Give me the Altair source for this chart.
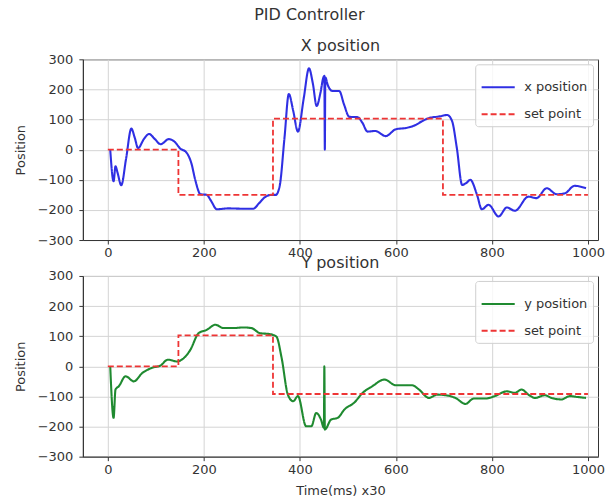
import altair as alt
import pandas as pd

FONT = "DejaVu Sans"

# ---- data ----
x_time = [5, 12, 16, 20, 28, 38, 49, 56, 63, 75, 86, 98, 110, 127, 140, 150, 164, 174, 182, 193,
          206, 215, 227, 250, 280, 303, 315, 327, 340, 350, 358, 368, 377, 386, 396, 408, 419, 427,
          435, 443, 449, 451, 452, 453, 458, 468, 482, 492, 503, 520, 530, 541, 557, 579, 600, 621,
          641, 655, 669, 689, 707, 717, 727, 738, 747, 755, 769, 779, 793, 814, 831, 848, 876, 893,
          914, 935, 952, 972, 996]
x_pos = [0, -105, -55, -75, -118, -30, 70, 40, 5, 35, 52, 35, 18, 35, 25, 5, -10, -45, -100, -148,
         -150, -170, -198, -195, -196, -196, -178, -158, -150, -150, -120, 40, 185, 130, 60, 170, 270, 220,
         145, 190, 240, 245, 0, 240, 215, 195, 195, 150, 109, 108, 90, 60, 62, 45, 68, 72,
         82, 95, 105, 110, 115, 95, 5, -117, -110, -100, -150, -198, -183, -222, -192, -203, -156, -161,
         -128, -148, -145, -120, -128]

y_time = [5, 12, 16, 23, 37, 54, 72, 92, 110, 125, 144, 158, 172, 189, 206, 224, 241, 262, 282, 299,
          317, 337, 351, 362, 375, 386, 396, 413, 424, 434, 444, 450, 451, 452, 465, 479, 493, 513,
          531, 551, 576, 600, 634, 648, 669, 686, 707, 724, 745, 762, 786, 806, 831, 848, 862, 876,
          890, 910, 924, 945, 962, 979, 996]
y_pos = [0, -171, -77, -66, -33, -50, -22, -5, 3, 22, 16, 27, 55, 110, 121, 138, 127, 127, 129, 127,
         110, 107, 99, 28, -94, -116, -99, -199, -199, -155, -177, -204, 0, -210, -177, -171, -143, -121,
         -88, -66, -44, -63, -63, -77, -105, -94, -97, -105, -125, -107, -107, -99, -83, -88, -77, -94,
         -105, -96, -105, -110, -99, -102, -105]

spx_time = [0, 147, 147, 344, 344, 698, 698, 1000]
spx_val = [0, 0, -150, -150, 103, 103, -150, -150]
spy_time = [0, 147, 147, 344, 344, 1000]
spy_val = [0, 0, 103, 103, -92, -92]

x_ticks = [0, 200, 400, 600, 800, 1000]
y_ticks = [-300, -200, -100, 0, 100, 200, 300]

RED = "#ee3535"


def frame(times, vals, name):
    return pd.DataFrame({"t": times, "v": vals, "series": name, "i": list(range(len(times)))})


def panel(title, pos_name, pos_color, times, vals, sp_t, sp_v, xtitle):
    df_pos = frame(times, vals, pos_name)
    df_sp = frame(sp_t, sp_v, "set point")
    dom = [pos_name, "set point"]
    xax = alt.Axis(values=x_ticks, title=xtitle, grid=True, format="d")
    x = alt.X("t:Q", scale=alt.Scale(domain=[-52, 1021], nice=False, zero=False), axis=xax)
    y = alt.Y("v:Q", scale=alt.Scale(domain=[-300, 300], nice=False, zero=False),
              axis=alt.Axis(values=y_ticks, title="Position", grid=True, format="d"))
    legend = alt.Legend(title=None, orient="top-right", offset=5)
    color = alt.Color("series:N", scale=alt.Scale(domain=dom, range=[pos_color, RED]), legend=legend)
    dash = alt.StrokeDash("series:N", scale=alt.Scale(domain=dom, range=[[1, 0], [6, 3]]), legend=legend)
    l1 = alt.Chart(df_pos).mark_line(strokeWidth=2.1, interpolate="monotone").encode(
        x=x, y=y, color=color, strokeDash=dash, order=alt.Order("i:Q"))
    l2 = alt.Chart(df_sp).mark_line(strokeWidth=1.8).encode(
        x=x, y=y, color=color, strokeDash=dash, order=alt.Order("i:Q"))
    return alt.layer(l1, l2).properties(
        width=516, height=181,
        title=alt.TitleParams(title, fontSize=16, font=FONT, fontWeight="normal", color="#333",
                              offset=-1, frame="group"))


top = panel("X position", "x position", "#2f2fe3", x_time, x_pos, spx_time, spx_val, None)
bottom = panel("Y position", "y position", "#1f8a30", y_time, y_pos, spy_time, spy_val, "Time(ms) x30")

chart = alt.vconcat(top, bottom, spacing=-7).resolve_scale(
    color="independent", strokeDash="independent"
).properties(
    title=alt.TitleParams("PID Controller", fontSize=16, font=FONT, fontWeight="normal",
                          color="#333", anchor="middle", offset=15),
    padding={"left": 13, "top": 6, "right": 0, "bottom": 4},
).configure_view(
    stroke="#333", strokeWidth=1
).configure_axis(
    labelFont=FONT, labelFontSize=13, labelColor="#333", titleFont=FONT, titleFontSize=13,
    titleFontWeight="normal", titleColor="#333", gridColor="#d4d4d4", gridWidth=1,
    domainColor="#333", tickColor="#333", tickSize=4, labelPadding=3, labelFlush=False,
    labelOverlap=False
).configure_axisX(
    titlePadding=8
).configure_axisY(
    titlePadding=10, labelPadding=6
).configure_legend(
    labelFont=FONT, labelFontSize=13, labelColor="#333", symbolType="stroke", symbolSize=1100,
    symbolStrokeWidth=2, fillColor="rgba(255,255,255,0.8)", strokeColor="#d0d0d0",
    cornerRadius=3, padding=5, rowPadding=2, labelOffset=8
)

chart.save("out.html", embed_options={"renderer": "svg", "actions": False})
